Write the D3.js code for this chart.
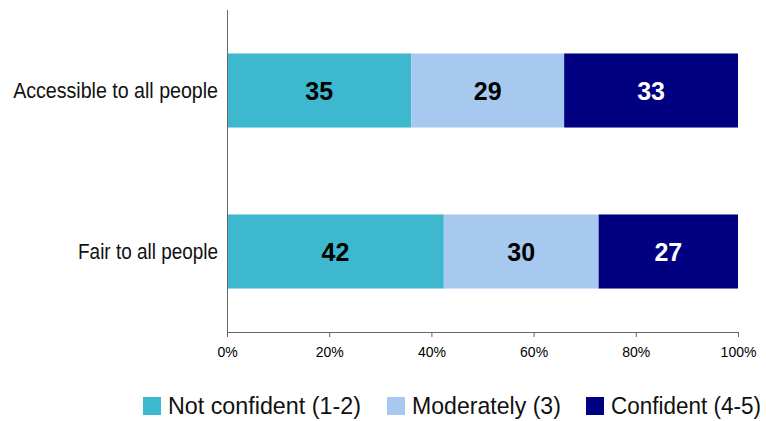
<!DOCTYPE html>
<html>
<head>
<meta charset="utf-8">
<script src="https://cdn.jsdelivr.net/npm/d3@7"></script>
<style>
body { margin: 0; background: #fff; }
svg { display: block; }
</style>
</head>
<body>
<svg width="766" height="421"></svg>
<script>
var categories = ['Accessible to all people', 'Fair to all people'];
var seriesNames = ['Not confident (1-2)', 'Moderately (3)', 'Confident (4-5)'];
var notConfident = [35, 42];
var moderately = [29, 30];
var confident = [33, 27];
var tickLabels = ['0%', '20%', '40%', '60%', '80%', '100%'];

var colors = ['#3eb8cf', '#a7c9ef', '#000080'];
var font = '"Liberation Sans", Arial, sans-serif';

var svg = d3.select('svg');

var plotLeft = 227, plotRight = 738, plotTop = 10, plotBottom = 332;

// table for the stack layout
var table = categories.map(function(c, i) {
    return { cat: c, s0: notConfident[i], s1: moderately[i], s2: confident[i] };
});

var stack = d3.stack()
    .keys(['s0', 's1', 's2'])
    .offset(d3.stackOffsetExpand); // bars fill 100%

var layers = stack(table);

var x = d3.scaleLinear().domain([0, 1]).range([plotLeft, plotRight]);
var y = d3.scaleBand().domain(categories).range([plotTop, plotBottom])
    .paddingInner(0.54).paddingOuter(0.27);

// bars
var layerG = svg.selectAll('.layer')
    .data(layers)
    .enter()
    .append('g')
    .attr('class', 'layer')
    .attr('fill', function(d, i) { return colors[i]; });

layerG.selectAll('rect')
    .data(function(d) { return d; })
    .enter()
    .append('rect')
    .attr('x', function(d) { return x(d[0]); })
    .attr('y', function(d) { return y(d.data.cat); })
    .attr('width', function(d) { return x(d[1]) - x(d[0]); })
    .attr('height', y.bandwidth());

// value labels
layers.forEach(function(layer, li) {
    svg.append('g').selectAll('text')
        .data(layer)
        .enter()
        .append('text')
        .attr('x', function(d) { return (x(d[0]) + x(d[1])) / 2; })
        .attr('y', function(d) { return y(d.data.cat) + y.bandwidth() / 2; })
        .attr('dy', '0.36em')
        .attr('text-anchor', 'middle')
        .style('font-family', font)
        .style('font-weight', 'bold')
        .style('font-size', '25px')
        .attr('fill', li == 2 ? '#fff' : '#000')
        .text(function(d) { return d.data['s' + li]; });
});

// x axis
var xAxis = d3.axisBottom(x)
    .tickValues(d3.range(0, 1.01, 0.2))
    .tickFormat(function(d, i) { return tickLabels[i]; })
    .tickSize(5)
    .tickSizeOuter(0);

var gx = svg.append('g')
    .attr('transform', 'translate(0,' + plotBottom + ')')
    .call(xAxis);
gx.select('.domain').attr('stroke', '#666');
gx.selectAll('.tick line').attr('stroke', '#666');
gx.selectAll('.tick text')
    .attr('y', 15)
    .attr('fill', '#000')
    .style('font-family', font)
    .style('font-size', '14px');

// squeeze text horizontally to imitate the narrow font of the original
function squeeze(sel, px, py, w, anchor) {
    sel.attr('x', 0).attr('y', 0).attr('text-anchor', anchor);
    var natural = sel.node().getComputedTextLength();
    sel.attr('transform', 'translate(' + px + ',' + py + ') scale(' + (w / natural) + ',1)');
}

// y axis
var labelWidths = [205, 140];
var gy = svg.append('g')
    .attr('transform', 'translate(' + plotLeft + ',0)')
    .call(d3.axisLeft(y).tickSize(0).tickPadding(9));
gy.select('.domain').attr('stroke', '#666').attr('d', 'M0.5,' + plotTop + 'V' + plotBottom);
gy.selectAll('.tick text')
    .attr('fill', '#111')
    .style('font-family', font)
    .style('font-size', '22px')
    .each(function(d, i) {
        d3.select(this).attr('dy', '0.32em');
        squeeze(d3.select(this), -9, 0, labelWidths[i], 'end');
    });

// legend
var legendItems = [
    { name: seriesNames[0], x: 143, w: 193 },
    { name: seriesNames[1], x: 387, w: 149 },
    { name: seriesNames[2], x: 586, w: 150 }
];
var legend = svg.append('g');
legendItems.forEach(function(item, i) {
    legend.append('rect')
        .attr('x', item.x)
        .attr('y', 397)
        .attr('width', 18)
        .attr('height', 18)
        .attr('fill', colors[i]);
    var t = legend.append('text')
        .style('font-family', font)
        .style('font-size', '24px')
        .attr('fill', '#111')
        .text(item.name);
    squeeze(t, item.x + 25, 414, item.w, 'start');
});
</script>
</body>
</html>
